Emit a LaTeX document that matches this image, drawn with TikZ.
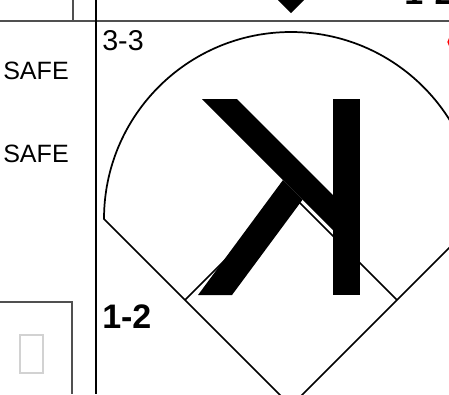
\documentclass[tikz,border=0pt]{standalone}
\usepackage{fontspec}
\setmainfont{Liberation Sans}
\usetikzlibrary{positioning}
\definecolor{rule}{HTML}{505050}
\definecolor{tofu}{HTML}{D2D2D2}

\begin{document}
\begin{tikzpicture}[x=0.75pt,y=-0.75pt,
    lbl/.style={anchor=base west, inner sep=0pt},
    field/.style={line width=1.3pt}]
  \useasboundingbox (0,0) rectangle (449,394);
  \clip (0,0) rectangle (449,394);
  % grid rules
  \draw[rule, line width=1.4pt] (0,21) -- (449,21);
  \draw[rule, line width=0.8pt] (73,0) -- (73,21);
  \draw[line width=1.5pt] (96,0) -- (96,394);
  \draw[rule, line width=0.9pt] (0,302) -- (72,302) -- (72,394);
  \draw[tofu, line width=0.8pt] (20,335) rectangle (43,373);
  % left column
  \node[lbl, font=\fontsize{18.8}{20}\selectfont] (safeA) at (3,79) {SAFE};
  \node[lbl, font=\fontsize{18.8}{20}\selectfont] (safeB) at (3,162) {SAFE};
  % cell above / beside
  \fill (278,0) -- (291,13) -- (304,0) -- cycle;
  \node[lbl, font=\bfseries\fontsize{25.5}{27}\selectfont] (countPrev) at (404,4.5) {1-2};
  \draw[red, line width=0.9pt] (453,42) circle (5);
  % this cell
  \node[lbl, font=\fontsize{21.5}{23}\selectfont] (count) at (102,50) {3-3};
  \node[lbl, font=\bfseries\fontsize{25.5}{27}\selectfont] (balls) at (102,328) {1-2};
  \coordinate (L) at (104,219);
  \coordinate (H) at (291,406);
  \coordinate (R) at (478,219);
  \coordinate (B1) at (397,300);
  \coordinate (B2) at (291,194);
  \coordinate (B3) at (185,300);
  \draw[field] (R) -- (H) -- (L) arc[start angle=180, end angle=360, radius=187];
  \draw[field] (B3) -- (B2) -- (B1);
  % backwards K
  \fill (333,99) rectangle (360,295);
  \fill (202,99) -- (237,99) -- (333,195) -- (333,230) -- cycle;
  \fill (198,295) -- (232,295) -- (302.6,199.6) -- (283,180) -- cycle;
\end{tikzpicture}
\end{document}
